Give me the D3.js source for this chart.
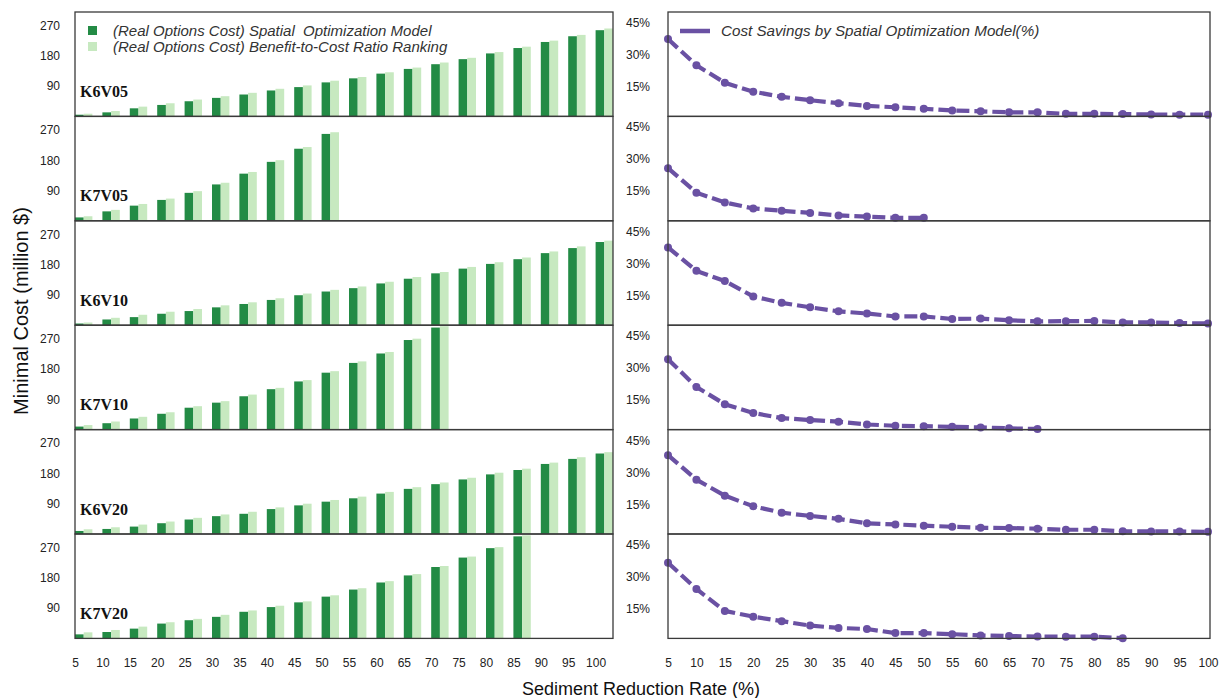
<!DOCTYPE html>
<html>
<head>
<meta charset="utf-8">
<script src="https://cdn.jsdelivr.net/npm/d3@7"></script>
<style>
  body { margin: 0; background: #fff; }
  svg { display: block; font-family: "Liberation Sans", Arial, sans-serif; }
</style>
</head>
<body>
<svg id="chart" width="1223" height="698"></svg>
<script>
// Sediment reduction targets (%)
const rates = [5,10,15,20,25,30,35,40,45,50,55,60,65,70,75,80,85,90,95,100];
const scenarioNames = ["K6V05","K7V05","K6V10","K7V10","K6V20","K7V20"];
const costTicks = [90,180,270];
const savingTicks = [15,30,45];

// Real options cost (million $) — spatial optimization model
const spatialK6V05 = [5,12,24,34,45,55,65,77,87,101,113,127,141,155,170,187,203,221,238,256];
const spatialK7V05 = [10,28,45,62,83,108,140,175,214,258];
const spatialK6V10 = [5,17,24,34,42,53,63,75,89,100,110,124,138,154,168,182,196,214,229,247];
const spatialK7V10 = [9,19,33,47,65,80,99,120,143,169,198,226,266,303];
const spatialK6V20 = [9,15,22,32,43,53,60,74,85,96,106,120,134,148,162,177,190,208,223,239];
const spatialK7V20 = [12,19,29,44,54,64,79,93,107,124,145,166,187,212,240,268,303];

// Real options cost (million $) — benefit-to-cost ratio ranking
const ratioK6V05 = [8,16,29,39,50,60,70,82,92,106,117,131,145,160,174,191,207,225,242,261];
const ratioK7V05 = [13.5,32.5,50,66,88,113,145,180,219,263];
const ratioK6V10 = [8,22,31,40,48,59,68,80,94,105,115,129,143,158,173,187,201,219,234,251];
const ratioK7V10 = [13.5,24,38,51.5,69.5,84.5,104,124,147,173.5,202.5,230.5,270,307];
const ratioK6V20 = [14,20,28,37,48,58,66,79,90,101,111,125,139,153,167,182,194,212,228,243];
const ratioK7V20 = [18,25,35,48,58,70,83,97,110,128,149,170,191,215,243,271,306];

// Cost savings by the spatial optimization model (%)
const savingK6V05 = [37.3,25,16.8,12.6,10.2,8.6,7.2,5.9,5.3,4.6,3.8,3.4,2.9,2.9,2.2,2.2,2.1,1.9,1.8,1.8];
const savingK7V05 = [25.7,14.2,9.6,6.8,5.7,4.7,3.5,3.0,2.4,2.4];
const savingK6V10 = [37.5,26.5,21.7,14.5,11.5,9.4,7.5,6.5,5.1,5.1,3.9,4.1,3.3,2.8,2.9,3.0,2.3,2.3,2.0,1.8];
const savingK7V10 = [34,21,12.9,8.8,6.4,5.5,4.7,3.4,2.8,2.6,2.3,2.0,1.6,1.3];
const savingK6V20 = [38,26.5,19,14,11,9.5,8.1,6,5.5,4.9,4.4,3.9,3.8,3.5,3,3,2.3,2.2,2.2,2];
const savingK7V20 = [36.5,24.2,13.9,11.2,9.1,7,5.9,5.4,3.5,3.5,3,2.4,2.1,1.9,1.8,1.8,1.1];

const spatialSeries = [spatialK6V05, spatialK7V05, spatialK6V10, spatialK7V10, spatialK6V20, spatialK7V20];
const ratioSeries = [ratioK6V05, ratioK7V05, ratioK6V10, ratioK7V10, ratioK6V20, ratioK7V20];
const savingSeries = [savingK6V05, savingK7V05, savingK6V10, savingK7V10, savingK6V20, savingK7V20];

const colors = { spatial: "#238b45", ratio: "#c7e9c0", saving: "#6a51a3", frame: "#3a3a3a", text: "#222" };
const sans = "'Liberation Sans', Arial, sans-serif";
const serif = "'Liberation Serif', 'Times New Roman', serif";

const svg = d3.select("#chart");
svg.append("rect").attr("width", 1223).attr("height", 698).attr("fill", "#fff");

const top0 = 12, bottom0 = 638.4;
const panelH = (bottom0 - top0) / scenarioNames.length;
const leftX = [75, 613], rightX = [668, 1210];

const xBand = d3.scaleBand().domain(rates).range(leftX).paddingInner(0.365).paddingOuter(0);
const barW = xBand.bandwidth() / 2;
const xTickLeft = d3.scaleLinear().domain([rates[0], rates[rates.length-1]])
  .range([xBand(rates[0]), xBand(rates[rates.length-1])]);
const xPoint = d3.scalePoint().domain(rates).range([rightX[0], 1208]);

scenarioNames.forEach((name, i) => {
  const top = top0 + i * panelH, bottom = top + panelH;
  const yCost = d3.scaleLinear().domain([0, 310]).range([bottom, top]);
  const ySave = d3.scaleLinear().domain([1, 50]).range([bottom, top]);

  // ---- cost bars ----
  const gL = svg.append("g");
  const spatial = spatialSeries[i], ratio = ratioSeries[i];
  gL.selectAll("rect.sp").data(spatial).join("rect")
    .attr("x", (d, j) => xBand(rates[j]))
    .attr("y", d => yCost(d))
    .attr("width", barW)
    .attr("height", d => yCost(0) - yCost(d))
    .attr("fill", colors.spatial);
  gL.selectAll("rect.ra").data(ratio).join("rect")
    .attr("x", (d, j) => xBand(rates[j]) + barW)
    .attr("y", d => yCost(d))
    .attr("width", barW)
    .attr("height", d => yCost(0) - yCost(d))
    .attr("fill", colors.ratio);

  gL.append("rect").attr("x", leftX[0]).attr("y", top)
    .attr("width", leftX[1] - leftX[0]).attr("height", panelH)
    .attr("fill", "none").attr("stroke", colors.frame).attr("stroke-width", 1.3);

  const axL = svg.append("g").attr("transform", `translate(${leftX[0] - 12},0)`)
    .call(d3.axisLeft(yCost).tickValues(costTicks).tickSize(0));
  axL.select(".domain").remove();
  axL.selectAll("text").attr("fill", colors.text)
    .style("font-size", "12px").style("font-family", sans);

  svg.append("text").attr("x", 80).attr("y", top + 85)
    .style("font-family", serif).style("font-weight", "bold").style("font-size", "16px")
    .attr("fill", "#111")
    .text(name);

  // ---- savings line ----
  const saving = savingSeries[i].map((v, j) => ({ rate: rates[j], v }));
  const gR = svg.append("g");
  gR.append("path").datum(saving)
    .attr("d", d3.line().x(d => xPoint(d.rate)).y(d => ySave(d.v)))
    .attr("fill", "none").attr("stroke", colors.saving)
    .attr("stroke-width", 4.2).attr("stroke-dasharray", "13,5");
  gR.selectAll("circle").data(saving).join("circle")
    .attr("cx", d => xPoint(d.rate)).attr("cy", d => ySave(d.v))
    .attr("r", 4).attr("fill", colors.saving);

  gR.append("rect").attr("x", rightX[0]).attr("y", top)
    .attr("width", rightX[1] - rightX[0]).attr("height", panelH)
    .attr("fill", "none").attr("stroke", colors.frame).attr("stroke-width", 1.3);

  const axR = svg.append("g").attr("transform", `translate(${rightX[0] - 15},0)`)
    .call(d3.axisLeft(ySave).tickValues(savingTicks).tickSize(0).tickFormat(d => d + "%"));
  axR.select(".domain").remove();
  axR.selectAll("text").attr("fill", colors.text)
    .style("font-size", "12px").style("font-family", sans);
});

// ---- bottom axes ----
const axBL = svg.append("g").attr("transform", `translate(0,${bottom0 + 17})`)
  .call(d3.axisBottom(xTickLeft).tickValues(rates).tickSize(0).tickFormat(d3.format("d")));
const axBR = svg.append("g").attr("transform", `translate(0,${bottom0 + 17})`)
  .call(d3.axisBottom(xPoint).tickSize(0));
[axBL, axBR].forEach(a => {
  a.select(".domain").remove();
  a.selectAll("text").attr("fill", colors.text)
    .style("font-size", "12px").style("font-family", sans);
});

// ---- axis titles ----
svg.append("text")
  .attr("transform", "translate(28,311) rotate(-90)")
  .attr("text-anchor", "middle").style("font-size", "20px").attr("fill", "#111")
  .text("Minimal Cost (million $)");
svg.append("text")
  .attr("x", 641).attr("y", 695)
  .attr("text-anchor", "middle").style("font-size", "18px").attr("fill", "#111")
  .text("Sediment Reduction Rate (%)");

// ---- legends ----
const legL = svg.append("g");
[["(Real Options Cost) Spatial  Optimization Model", colors.spatial, 31],
 ["(Real Options Cost) Benefit-to-Cost Ratio Ranking", colors.ratio, 47]].forEach(([label, c, y]) => {
  legL.append("rect").attr("x", 88).attr("y", y - 5).attr("width", 9).attr("height", 9).attr("fill", c);
  legL.append("text").attr("x", 113).attr("y", y + 5)
    .style("font-size", "15px").style("font-style", "italic").style("white-space", "pre")
    .attr("fill", "#333")
    .text(label);
});
const legR = svg.append("g");
legR.append("line").attr("x1", 680).attr("x2", 710).attr("y1", 31).attr("y2", 31)
  .attr("stroke", colors.saving).attr("stroke-width", 4.5);
legR.append("text").attr("x", 721).attr("y", 36)
  .style("font-size", "15.2px").style("font-style", "italic")
  .attr("fill", "#333")
  .text("Cost Savings by Spatial Optimization Model(%)");
</script>
</body>
</html>
